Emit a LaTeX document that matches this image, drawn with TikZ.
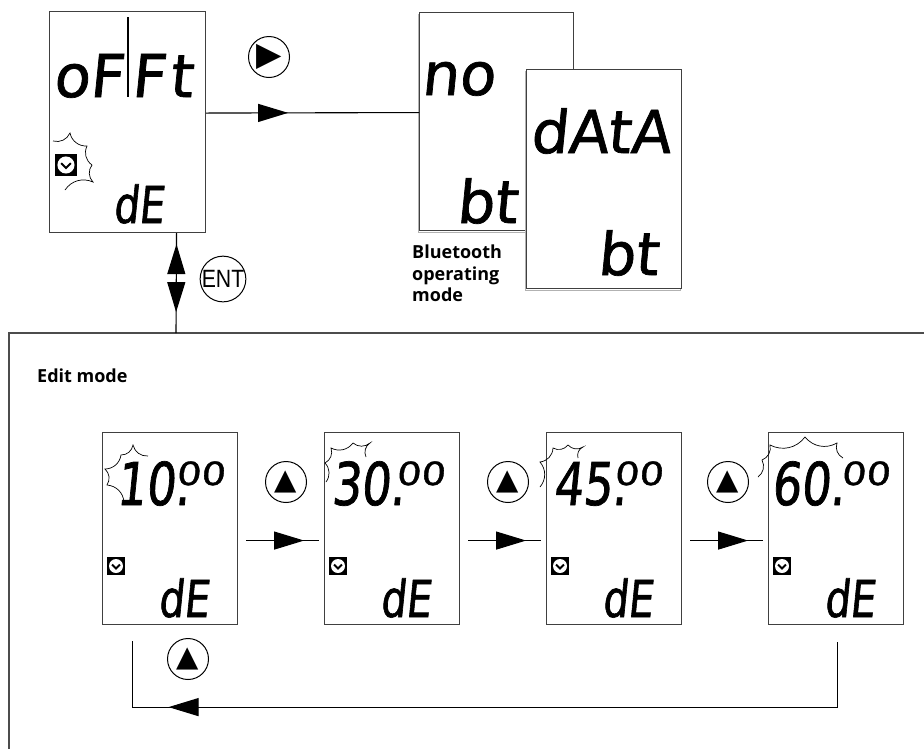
\documentclass[tikz,border=0pt]{standalone}
\usepackage{fontspec}
\usepackage{tikz}
\usetikzlibrary{arrows.meta}
\usetikzlibrary{decorations.markings}
\setsansfont{Open Sans}
\newfontfamily\lcdfont[FakeStretch=0.78,FakeSlant=0.1,FakeBold=1.2]{DejaVu Sans}
\newfontfamily\lcdwide[FakeSlant=0.1,FakeBold=1.2]{DejaVu Sans}
\newfontfamily\lcdsmall[FakeStretch=1.2,FakeSlant=0.1,FakeBold=1.2]{DejaVu Sans}
\newfontfamily\symfont{DejaVu Sans}
\newfontfamily\entfont[FakeStretch=0.85]{Liberation Sans}

\tikzset{
  lcdbox/.style={draw=black!75, line width=1.1pt, fill=white, inner sep=0pt, anchor=north west},
  shadowbox/.style={lcdbox, preaction={draw=black!30, line width=1.1pt, transform canvas={xshift=-1.5pt,yshift=-1.5pt}}},
  lcdbig/.style={anchor=base west, inner sep=0pt, font=\lcdfont\fontsize{59}{59}\selectfont},
  lcdword/.style={anchor=base west, inner sep=0pt, font=\lcdwide\fontsize{59}{59}\selectfont},
  lcdmid/.style={anchor=base west, inner sep=0pt, font=\lcdfont\fontsize{51}{51}\selectfont},
  lcdsup/.style={anchor=base west, inner sep=0pt, font=\lcdsmall\fontsize{32}{32}\selectfont},
  btnode/.style={circle, draw, line width=1pt, minimum size=41pt, inner sep=0pt},
  btsym/.style={font=\symfont\fontsize{29}{29}\selectfont},
  note/.style={anchor=north west, align=left, inner sep=0pt, font=\sffamily\bfseries\fontsize{18}{21.5}\selectfont},
  flow/.style={line width=1.1pt},
  arrowat/.style={postaction={decorate, decoration={markings,
      mark=at position #1 with {\arrow{Triangle[length=30pt,width=18pt]}}}}},
  arrowback/.style={postaction={decorate, decoration={markings,
      mark=at position #1 with {\arrowreversed{Triangle[length=30pt,width=18pt]}}}}},
  blink/.style={line width=0.7pt},
  clock/.pic={
    \fill (0,0) rectangle (18,18);
    \fill[white] (9,9) circle (7);
    \draw[line width=2pt] (5,7.5) -- (9,11.5) -- (13,7.5);
  }
}

\begin{document}
\begin{tikzpicture}[x=1pt,y=-1pt]
\useasboundingbox (0,0) rectangle (924,748);
\coordinate (A) at (49,11);
\coordinate (B) at (419,12);
\coordinate (C) at (526,69);
\coordinate (D1) at (102,432);
\coordinate (D2) at (324,432);
\coordinate (D3) at (546,432);
\coordinate (D4) at (768,432);
\coordinate (Ftop) at (176,333);
%edit mode frame
\draw[draw=black!70, line width=1.1pt] (9,760) |- (940,333);
\node[note, anchor=base west] (editlabel) at (37,382) {Edit mode};
%offset display
\draw (A) node[lcdbox,minimum width=156pt,minimum height=221pt] (offt) {};
\node[lcdword] (offttxt) at (53,97) {oF\kern8pt F\kern4pt t};
\draw[line width=1.5pt] (128,17) -- (128,97);
\node[lcdmid] (offtde) at (113,223) {dE};
\draw (55,154) pic[scale=1.22] {clock};
\draw[blink] (53,141) to[bend right=40] (70,133) to[bend right=40] (87,146)
  to[bend right=40] (92,165) to[bend right=40] (93,182) to[bend right=40] (65,190);
%bluetooth displays
\draw (B) node[shadowbox,minimum width=154pt,minimum height=218pt] (nobt) {};
\node[lcdword] (notxt) at (421,95) {no};
\node[lcdword] (nobttxt) at (456,223) {bt};
\draw[flow,arrowat=82pt] ([yshift=9pt]offt.east) -- ([yshift=9pt]nobt.west);
\node[btnode] (play) at (269,57) {\symfont\fontsize{33}{33}\selectfont ▶};
\draw (C) node[shadowbox,minimum width=155pt,minimum height=219pt] (data) {};
\node[lcdword] (datatxt) at (530,153) {dAtA};
\node[lcdword] (databttxt) at (597,275) {bt};
\node[note] (btlabel) at (412,245) {Bluetooth\\operating\\mode};
%enter
\draw[flow,arrowat=79pt,arrowback=11pt] ([xshift=49pt]offt.south) -- (Ftop);
\node[btnode] (enter) at (223,279) {\entfont\fontsize{25}{25}\selectfont ENT};
%edit displays
\draw (D1) node[lcdbox,minimum width=135pt,minimum height=192pt] (t10) {};
\draw (D2) node[lcdbox,minimum width=135pt,minimum height=192pt] (t30) {};
\draw (D3) node[lcdbox,minimum width=135pt,minimum height=192pt] (t45) {};
\draw (D4) node[lcdbox,minimum width=135pt,minimum height=192pt] (t60) {};
\node[lcdbig] (t10big) at (116,505) {10.};
\node[lcdsup] (t10sup) at (176,485) {00};
\node[lcdbig] (t30big) at (331,505) {30.};
\node[lcdsup] (t30sup) at (396,485) {00};
\node[lcdbig] (t45big) at (553,505) {45.};
\node[lcdsup] (t45sup) at (614,485) {00};
\node[lcdbig] (t60big) at (771,505) {60.};
\node[lcdsup] (t60sup) at (841,485) {00};
\foreach \b/\x in {t10/102,t30/324,t45/546,t60/768}{
  \draw (\x+5,557) pic {clock};
  \node[lcdmid] (\b de) at (\x+56,617) {dE};
}
\draw[blink] (124,502) to[bend right=40] (107,485) to[bend right=40] (105,469)
  to[bend right=40] (121,455) to[bend right=40] (133,445) to[bend right=40] (148,456);
\draw[blink] (326,482) to[bend right=40] (325,463) to[bend right=40] (331,448)
  to[bend right=40] (353,443) to[bend right=40] (370,443) to[bend right=40] (366,457);
\draw[blink] (540,487) to[bend right=40] (540,462) to[bend right=40] (553,448)
  to[bend right=40] (568,445) to[bend right=40] (583,447) to[bend right=40] (578,458);
\draw[blink] (758,477) to[bend right=40] (762,460) to[bend right=40] (770,445)
  to[bend right=40] (805,437) to[bend right=40] (837,443) to[bend right=40] (843,458);
\draw[flow,arrowat=58pt] ([xshift=8pt,yshift=-12pt]t10.east) -- ([xshift=-5pt,yshift=-12pt]t30.west);
\draw[flow,arrowat=58pt] ([xshift=8pt,yshift=-12pt]t30.east) -- ([xshift=-5pt,yshift=-12pt]t45.west);
\draw[flow,arrowat=58pt] ([xshift=8pt,yshift=-12pt]t45.east) -- ([xshift=-5pt,yshift=-12pt]t60.west);
\node[btnode,btsym] (up1) at (286,482) {▲};
\node[btnode,btsym] (up2) at (508,482) {▲};
\node[btnode,btsym] (up3) at (728,482) {▲};
%back to start
\draw[flow,arrowat=734pt] ([xshift=1.5pt,yshift=-17pt]t60.south) -- ++(0,65) -| ([xshift=-37.5pt,yshift=-16pt]t10.south);
\node[btnode,btsym] (up4) at (188,659) {▲};
\end{tikzpicture}
\end{document}
